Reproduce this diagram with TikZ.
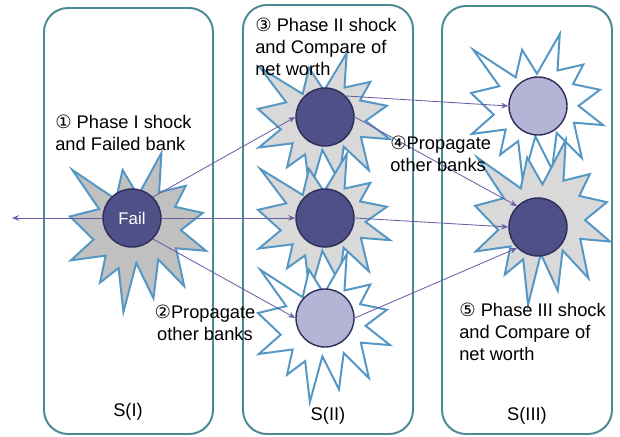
\documentclass[tikz,border=0pt]{standalone}
\usepackage{fontspec}
\setmainfont{Liberation Sans}
\newfontfamily\circfont{DejaVu Sans}
\usetikzlibrary{arrows.meta}
\definecolor{panelteal}{RGB}{74,138,146}
\definecolor{starblue}{RGB}{84,150,196}
\definecolor{bankdark}{RGB}{80,80,137}
\definecolor{banklight}{RGB}{180,180,214}
\definecolor{bankedge}{RGB}{45,45,90}
\definecolor{linkpurple}{RGB}{105,95,165}
\definecolor{shockgray}{RGB}{192,192,192}
\definecolor{shocklight}{RGB}{217,217,217}

\tikzset{
	panel/.style={draw=panelteal, line width=1.4pt, rounded corners=0.6cm},
	shock/.style={draw=starblue, line width=1.4pt, line join=miter},
	bank/.style={circle, draw=bankedge, line width=1pt, minimum size=1.45cm, inner sep=0pt},
	link/.style={draw=linkpurple, line width=0.6pt, -{Stealth[length=5pt,width=4pt]}},
	note/.style={align=left, anchor=base west, inner sep=0pt, font=\fontsize{13}{15.6}\selectfont},
}

% explosion shape: left, top, width, height, fill
\newcommand{\explosion}[5]{%
	\begin{scope}[shift={(#1,#2)}, xscale=#3/100, yscale=#4/100]
		\filldraw[shock, fill=#5] (50,26.85) -- (67.23,0) -- (65.53,24.65) -- (85.09,20.63) -- (77.32,33.87) -- (97.67,37.67) -- (81.51,48.50) -- (100,61.53) -- (77.95,59.92) -- (84.00,83.77) -- (64.91,66.93) -- (61.33,91.38) -- (48.76,69.14) -- (39.28,100) -- (35.72,72.35) -- (22.05,81.56) -- (26.24,64.52) -- (0.63,67.53) -- (17.23,54.51) -- (0,39.88) -- (21.42,35.26) -- (1.71,10.63) -- (33.85,29.26) -- (38.67,10.63) -- cycle;
	\end{scope}}

\begin{document}
\begin{tikzpicture}[x=0.025cm, y=-0.025cm]
	\useasboundingbox (0,0) rectangle (620,436);
	% stages
	\draw[panel] (44,8) rectangle (213,434);
	\draw[panel] (243,5) rectangle (413,434);
	\draw[panel] (442,6) rectangle (612,434);
	%%%%% banks
	\explosion{70}{153}{136}{159}{shockgray}
	\node[bank, fill=bankdark, text=white, font=\fontsize{12}{14}\selectfont] (fail) at (132,218) {Fail};
	\explosion{258}{53}{132}{140}{shocklight}
	\node[bank, fill=bankdark] (b2a) at (325,117) {};
	\explosion{258}{154}{132}{140}{shocklight}
	\node[bank, fill=bankdark] (b2b) at (325,218) {};
	\explosion{258}{254}{132}{148}{white}
	\node[bank, fill=banklight] (b2c) at (325,318) {};
	\explosion{471}{34}{132}{148}{white}
	\node[bank, fill=banklight] (b3a) at (538,106) {};
	\explosion{475}{140}{135}{165}{shocklight}
	\node[bank, fill=bankdark] (b3b) at (538,227) {};
	%%%%% propagation
	\coordinate (out) at (12,218);
	\draw[link] (fail.west) -- (out);
	\draw[link] (fail.north east) -- (b2a.west);
	\draw[link] (fail.east) -- (b2b.west);
	\draw[link] (fail.south east) -- (b2c.west);
	\draw[link] (b2a.north east) -- (b3a.west);
	\draw[link] (b2a.east) -- (b3b.north west);
	\draw[link] (b2b.east) -- (b3b.west);
	\draw[link] (b2c.east) -- (b3b.south west);
	%%%%% labels (placed at the baseline of the last line)
	\node[note] (phase1) at (55,150) {{\circfont ①} Phase I shock\\and Failed bank};
	\node[note, align=center, anchor=base] (prop2) at (205,340) {{\circfont ②}Propagate\\other banks};
	\node[note] (phase2) at (255,75) {{\circfont ③} Phase II shock\\and Compare of\\net worth};
	\node[note] (prop3) at (390,171) {{\circfont ④}Propagate\\other banks};
	\node[note] (phase3) at (459,360) {{\circfont ⑤} Phase III shock\\and Compare of\\net worth};
	\node[note, anchor=base] (s1) at (128,416) {S(I)};
	\node[note, anchor=base] (s2) at (328,420) {S(II)};
	\node[note, anchor=base] (s3) at (527,420) {S(III)};
\end{tikzpicture}
\end{document}
